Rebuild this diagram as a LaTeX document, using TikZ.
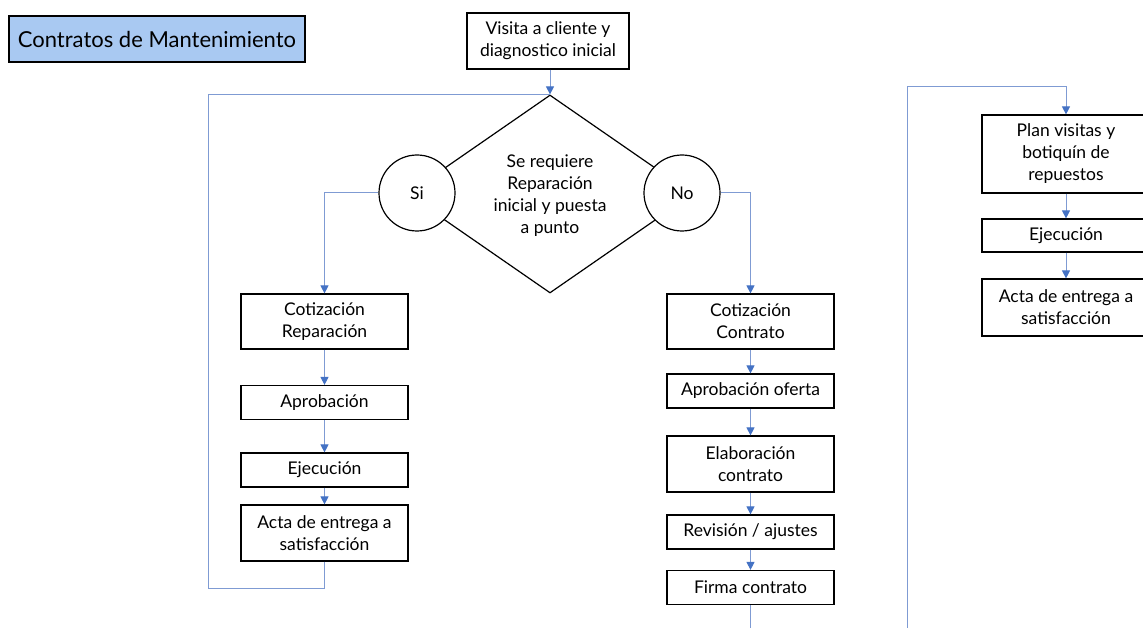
\documentclass[tikz,border=0pt]{standalone}
\usepackage{fontspec}
\setmainfont{Lato}
\usetikzlibrary{shapes.geometric,arrows.meta}
\definecolor{flow}{HTML}{4472C4}
\definecolor{flowline}{HTML}{7F9BD3}
\definecolor{titlefill}{HTML}{A9C9F2}

\begin{document}
\begin{tikzpicture}[x=1pt,y=-1pt,
  txt/.style={font=\fontsize{17.5}{22}\selectfont},
  box/.style={txt,draw=black,line width=1.2pt,fill=white,minimum width=167pt,align=center,inner sep=2pt},
  yesno/.style={txt,circle,draw=black,line width=1.2pt,fill=white,minimum size=76pt,inner sep=0pt},
  link/.style={draw=flowline,line width=1pt},
  arrow/.style={link,-{Triangle[width=8pt,length=8pt,color=flow]}}
]
\useasboundingbox (0,0) rectangle (1143,628);
\clip (0,0) rectangle (1143,628);

% title
\node[box,minimum width=296pt,minimum height=46pt,fill=titlefill,font=\fontsize{22}{28}\selectfont] (title) at (157,39) {Contratos de Mantenimiento};

% start and decision
\node[box,minimum width=162pt,minimum height=56pt] (visita) at (548,41) {Visita a cliente y\\diagnostico inicial};
\node[draw,diamond,line width=1.2pt,minimum width=286pt,minimum height=198pt,inner sep=0pt] (decision) at (550,194) {};
\node[txt,align=center] (question) at (550,196) {Se requiere\\Reparación\\inicial y puesta\\a punto};
\node[yesno] (si) at (417,193) {Si};
\node[yesno] (no) at (682,193) {No};

% repair branch
\node[box,minimum height=55pt] (cotrep) at (324.5,321.5) {Cotización\\Reparación};
\node[box,minimum height=34pt] (aprob) at (324.5,402.5) {Aprobación};
\node[box,minimum height=34pt] (ejec1) at (324.5,470) {Ejecución};
\node[box,minimum height=56pt] (acta1) at (324.5,533) {Acta de entrega a\\satisfacción};

% contract branch
\node[box,minimum height=55pt] (cotcon) at (750.5,321.5) {Cotización\\Contrato};
\node[box,minimum height=34pt] (aprobof) at (750.5,391) {Aprobación oferta};
\node[box,minimum height=56pt] (elab) at (750.5,464) {Elaboración\\contrato};
\node[box,minimum height=34pt] (revis) at (750.5,532) {Revisión / ajustes};
\node[box,minimum height=34pt] (firma) at (750.5,587.5) {Firma contrato};

% maintenance cycle
\node[box,minimum width=168pt,minimum height=78pt] (plan) at (1066,154) {Plan visitas y\\botiquín de\\repuestos};
\node[box,minimum width=168pt,minimum height=33pt] (ejec2) at (1066,235.5) {Ejecución};
\node[box,minimum width=168pt,minimum height=57pt] (acta2) at (1066,307.5) {Acta de entrega a\\satisfacción};

% helper points
\coordinate (loopL) at (208,588);
\coordinate (tailend) at (750.5,640);
\coordinate (sideB) at (907.5,640);
\coordinate (sideT) at (907.5,87);

% connectors
\draw[link] (acta1.south) |- (loopL) |- (decision.north);
\draw[arrow] (visita.south -| decision.north) -- (decision.north);
\draw[arrow] (si.west) -| (cotrep.north);
\draw[arrow] (cotrep) -- (aprob);
\draw[arrow] (aprob) -- (ejec1);
\draw[arrow] (ejec1) -- (acta1);

\draw[arrow] (no.east) -| (cotcon.north);
\draw[arrow] (cotcon) -- (aprobof);
\draw[arrow] (aprobof) -- (elab);
\draw[arrow] (elab) -- (revis);
\draw[arrow] (revis) -- (firma);
\draw[link] (firma.south) -- (tailend);

\draw[arrow] (sideB) -- (sideT) -| (plan.north);
\draw[arrow] (plan) -- (ejec2);
\draw[arrow] (ejec2) -- (acta2);
\end{tikzpicture}
\end{document}
